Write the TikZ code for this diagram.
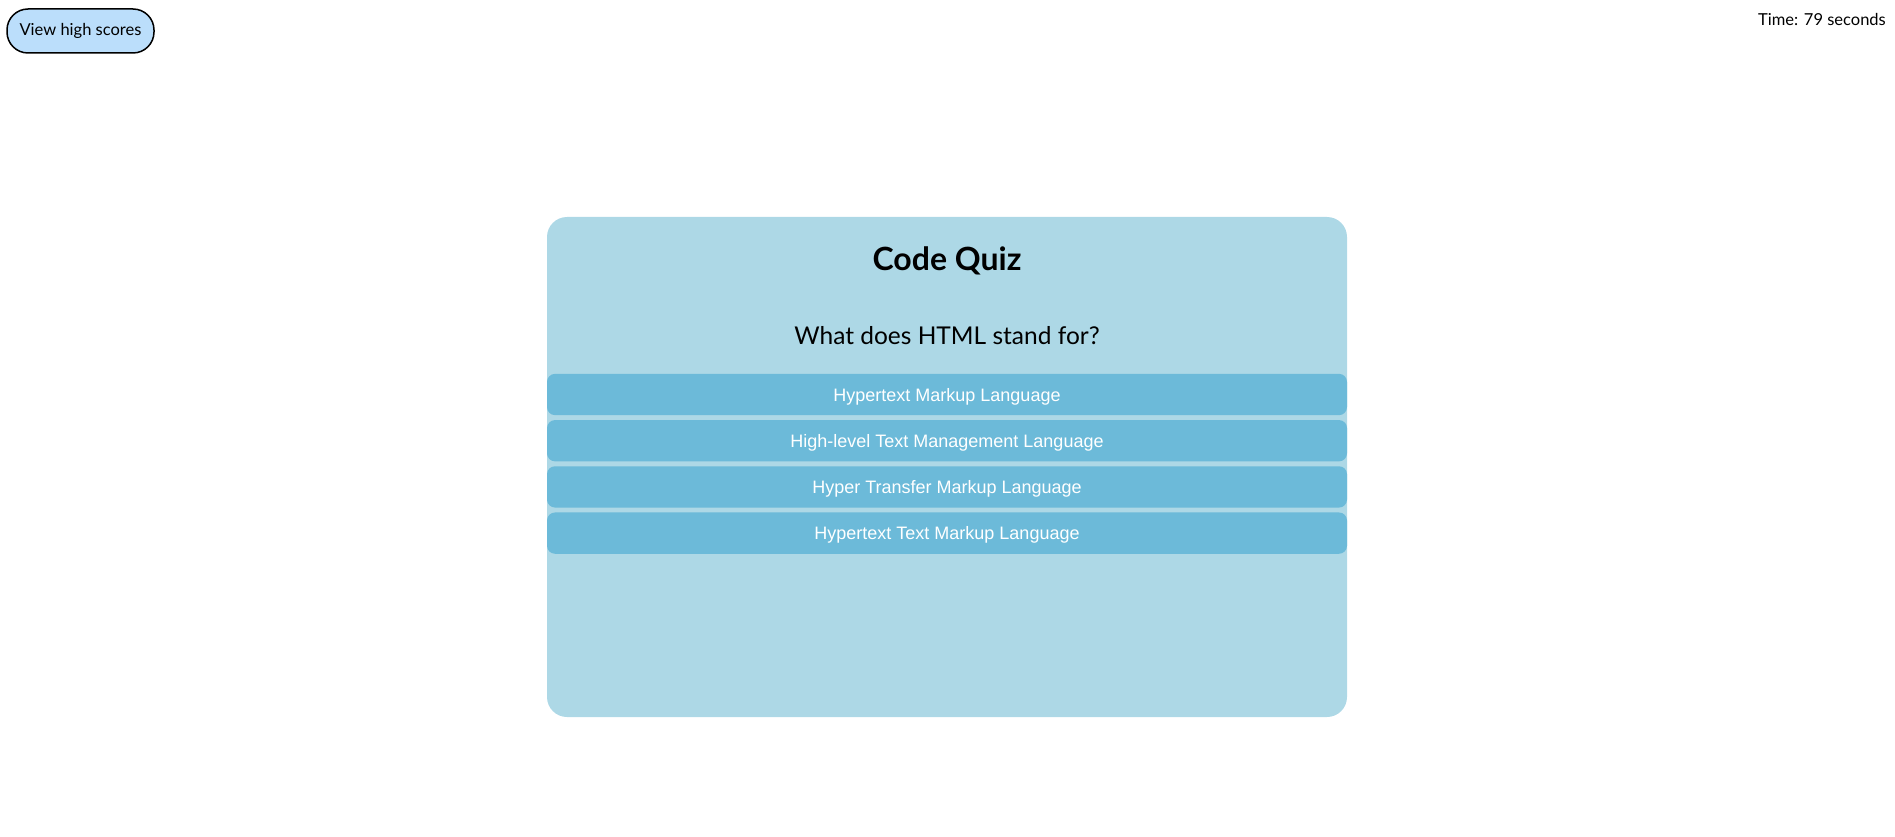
\documentclass[tikz,border=0pt]{standalone}
\usepackage{fontspec}
\setmainfont{Lato}
\newfontfamily\answerfont{Liberation Sans}
\usetikzlibrary{positioning}
\definecolor{cardblue}{RGB}{173,216,230}
\definecolor{answerblue}{RGB}{108,186,217}
\definecolor{scoreblue}{RGB}{187,222,251}
\begin{document}
\begin{tikzpicture}
    [x=1pt,y=-1pt,
    card/.style={fill=cardblue,rounded corners=20pt,minimum width=800pt,minimum height=500pt},
    answer/.style={fill=answerblue,rounded corners=8pt,minimum width=800pt,minimum height=41.3pt,
      text=white,font=\answerfont\fontsize{18}{20}\selectfont,text height=13pt,text depth=0pt,inner sep=0pt},
    scores/.style={fill=scoreblue,draw=black,line width=1.5pt,rounded corners=21pt,
      minimum width=147pt,minimum height=44pt,inner sep=0pt,font=\fontsize{16.5}{19}\selectfont}]

    \useasboundingbox (0,0) rectangle (1895,837);
    \node[scores] (highscores) at (80.5,31) {View high scores};
    \node[anchor=base east,inner sep=0pt,font=\fontsize{16.5}{19}\selectfont] (timer) at (1886,26) {Time: 79 seconds};

    \node[card] (quiz) at (947,467) {};
    \node[anchor=base,inner sep=0pt,font=\bfseries\fontsize{32}{38}\selectfont] (title) at (947,270.7) {Code Quiz};
    \node[anchor=base,inner sep=0pt,font=\fontsize{24.5}{29}\selectfont] (question) at (947,344) {What does HTML stand for?};

    \node[answer] (a1) at (947,394.5) {Hypertext Markup Language};
    \node[answer] (a2) [below=4.5pt of a1] {High-level Text Management Language};
    \node[answer] (a3) [below=4.5pt of a2] {Hyper Transfer Markup Language};
    \node[answer] (a4) [below=4.5pt of a3] {Hypertext Text Markup Language};
\end{tikzpicture}
\end{document}
